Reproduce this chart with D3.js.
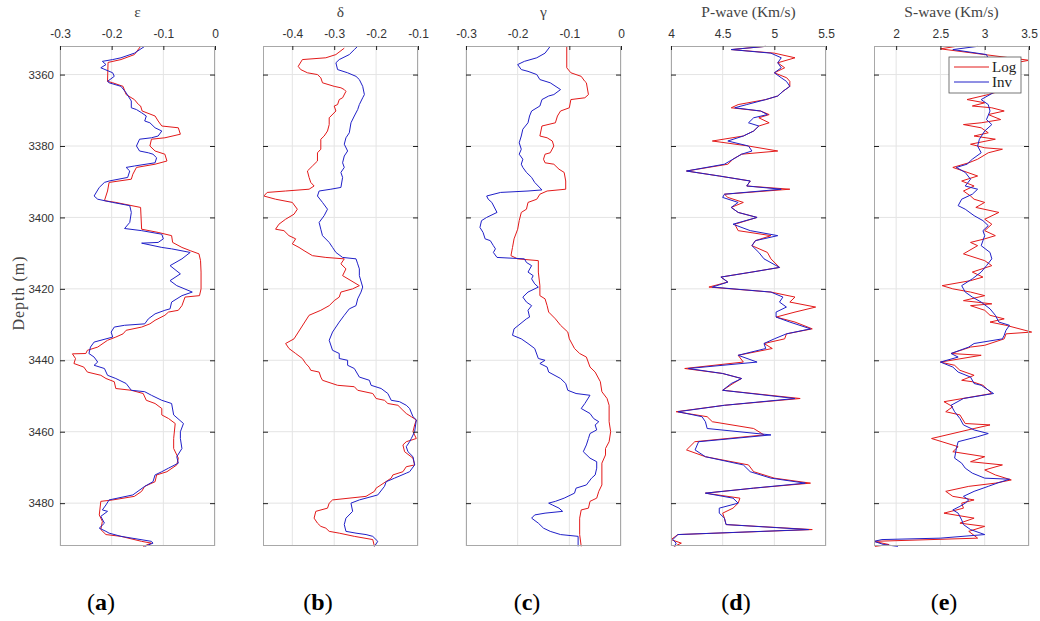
<!DOCTYPE html>
<html>
<head>
<meta charset="utf-8">
<script src="https://cdn.jsdelivr.net/npm/d3@7"></script>
<style>
  body { margin: 0; background: #fff; }
  svg { display: block; }
</style>
</head>
<body>
<div id="chart"></div>
<script>
// depth axis
var depthDomain = [3352, 3492];
var depthTicks = [3360, 3380, 3400, 3420, 3440, 3460, 3480];

// (a) epsilon
var epsLogDepth = [3352.1,3354.4,3355.8,3356.6,3361.9,3362.3,3363.3,3365.6,3367.0,3368.4,3368.8,3370.2,3371.6,3373.0,3374.4,3374.9,3376.7,3377.7,3378.1,3380.0,3381.4,3382.3,3384.2,3385.1,3386.0,3387.9,3389.3,3390.2,3392.6,3395.3,3395.8,3396.3,3397.2,3403.3,3404.2,3405.1,3407.0,3408.4,3409.3,3410.2,3412.1,3415.3,3420.0,3421.9,3422.3,3424.7,3426.0,3426.5,3427.4,3428.8,3429.8,3430.7,3431.6,3432.6,3433.5,3434.4,3436.3,3437.2,3438.1,3438.2,3439.5,3440.9,3441.9,3443.3,3444.2,3445.1,3446.0,3447.9,3448.4,3449.3,3451.2,3452.1,3453.5,3455.3,3456.3,3457.7,3461.9,3464.7,3467.4,3469.3,3471.2,3472.1,3474.0,3475.3,3476.7,3478.1,3479.1,3479.5,3483.3,3485.1,3487.4,3488.8,3489.3,3490.7,3491.2,3492.1];
var epsLog = [-0.144,-0.156,-0.182,-0.207,-0.208,-0.198,-0.178,-0.172,-0.156,-0.148,-0.144,-0.141,-0.116,-0.110,-0.103,-0.071,-0.067,-0.097,-0.123,-0.126,-0.116,-0.097,-0.093,-0.116,-0.152,-0.159,-0.162,-0.205,-0.208,-0.214,-0.192,-0.175,-0.144,-0.142,-0.110,-0.084,-0.082,-0.064,-0.048,-0.031,-0.028,-0.027,-0.027,-0.030,-0.058,-0.064,-0.071,-0.090,-0.097,-0.116,-0.126,-0.142,-0.172,-0.178,-0.192,-0.208,-0.227,-0.247,-0.250,-0.276,-0.270,-0.273,-0.254,-0.247,-0.221,-0.211,-0.195,-0.192,-0.162,-0.139,-0.133,-0.116,-0.103,-0.103,-0.090,-0.077,-0.080,-0.080,-0.071,-0.074,-0.093,-0.113,-0.116,-0.136,-0.142,-0.156,-0.198,-0.221,-0.224,-0.218,-0.221,-0.211,-0.182,-0.142,-0.123,-0.139];
var epsInvDepth = [3352.1,3354.0,3355.3,3355.8,3356.3,3357.2,3358.1,3359.5,3360.5,3361.9,3362.3,3363.3,3365.1,3367.4,3369.3,3369.8,3370.7,3371.6,3373.0,3373.5,3374.9,3375.8,3377.2,3377.7,3378.1,3380.0,3381.4,3381.9,3382.3,3383.3,3384.7,3385.6,3386.0,3387.0,3388.8,3389.8,3390.2,3391.6,3394.0,3394.9,3395.8,3396.7,3398.6,3401.4,3403.1,3403.7,3404.7,3406.0,3407.0,3407.2,3408.4,3408.8,3409.8,3411.6,3413.5,3415.8,3417.7,3419.1,3420.9,3421.9,3423.7,3425.6,3426.0,3427.0,3428.4,3429.8,3430.2,3430.7,3432.1,3433.5,3434.9,3436.3,3438.1,3439.1,3440.5,3441.4,3442.3,3444.2,3445.1,3446.5,3448.4,3448.8,3449.8,3451.2,3452.1,3455.3,3457.7,3460.0,3461.9,3464.7,3467.0,3468.8,3470.2,3471.2,3472.1,3474.0,3475.3,3477.7,3479.1,3480.5,3481.9,3482.3,3483.7,3485.6,3487.0,3487.9,3488.4,3489.3,3490.7,3491.2,3492.1];
var epsInv = [-0.136,-0.156,-0.182,-0.198,-0.218,-0.211,-0.221,-0.198,-0.195,-0.208,-0.205,-0.182,-0.172,-0.162,-0.162,-0.152,-0.142,-0.133,-0.136,-0.126,-0.116,-0.103,-0.110,-0.123,-0.146,-0.152,-0.146,-0.129,-0.120,-0.113,-0.116,-0.156,-0.172,-0.165,-0.169,-0.205,-0.214,-0.224,-0.234,-0.227,-0.198,-0.165,-0.162,-0.165,-0.175,-0.142,-0.103,-0.100,-0.110,-0.142,-0.103,-0.084,-0.048,-0.064,-0.087,-0.067,-0.087,-0.074,-0.044,-0.064,-0.084,-0.087,-0.097,-0.116,-0.129,-0.136,-0.175,-0.195,-0.201,-0.198,-0.234,-0.241,-0.244,-0.234,-0.227,-0.234,-0.214,-0.208,-0.192,-0.172,-0.162,-0.136,-0.123,-0.103,-0.084,-0.080,-0.061,-0.067,-0.067,-0.064,-0.074,-0.071,-0.090,-0.103,-0.116,-0.120,-0.136,-0.159,-0.205,-0.211,-0.218,-0.208,-0.221,-0.214,-0.224,-0.211,-0.205,-0.182,-0.123,-0.120,-0.136];

// (b) delta
var delLogDepth = [3352.6,3354.4,3355.3,3355.8,3357.7,3358.6,3359.5,3360.0,3360.9,3362.3,3363.3,3363.7,3364.2,3364.7,3366.5,3367.0,3368.4,3368.8,3370.2,3372.1,3374.0,3375.8,3377.2,3378.1,3380.9,3381.9,3384.2,3385.6,3387.0,3388.8,3390.2,3391.2,3392.1,3392.6,3393.0,3394.0,3394.9,3395.8,3397.7,3399.1,3400.5,3401.9,3403.3,3403.7,3405.1,3406.0,3407.4,3408.4,3409.3,3410.7,3411.2,3411.6,3413.0,3414.4,3416.3,3417.7,3419.1,3420.0,3420.9,3422.3,3423.3,3424.7,3426.0,3427.4,3434.0,3435.3,3436.7,3438.1,3439.5,3440.9,3441.9,3442.8,3443.3,3444.7,3445.6,3447.0,3447.4,3448.4,3449.3,3450.7,3451.2,3452.1,3452.6,3454.0,3454.9,3455.8,3456.7,3458.1,3460.0,3461.9,3462.8,3463.7,3465.6,3467.4,3469.3,3469.8,3471.2,3472.1,3473.0,3475.8,3476.7,3478.1,3479.1,3480.0,3481.4,3482.3,3484.2,3485.6,3486.5,3487.0,3487.9,3488.4,3489.3,3490.2,3492.1];
var delLog = [-0.276,-0.296,-0.320,-0.376,-0.386,-0.380,-0.364,-0.340,-0.332,-0.328,-0.300,-0.284,-0.276,-0.272,-0.280,-0.288,-0.292,-0.300,-0.296,-0.312,-0.312,-0.316,-0.324,-0.332,-0.332,-0.340,-0.340,-0.352,-0.364,-0.360,-0.356,-0.348,-0.360,-0.416,-0.460,-0.468,-0.440,-0.400,-0.388,-0.396,-0.416,-0.432,-0.440,-0.420,-0.408,-0.392,-0.400,-0.384,-0.372,-0.352,-0.320,-0.276,-0.284,-0.272,-0.280,-0.260,-0.240,-0.256,-0.284,-0.288,-0.300,-0.312,-0.332,-0.360,-0.396,-0.416,-0.408,-0.392,-0.376,-0.368,-0.360,-0.356,-0.336,-0.332,-0.328,-0.292,-0.252,-0.244,-0.208,-0.200,-0.180,-0.172,-0.148,-0.136,-0.128,-0.116,-0.104,-0.108,-0.112,-0.104,-0.128,-0.136,-0.132,-0.112,-0.108,-0.128,-0.136,-0.160,-0.164,-0.200,-0.204,-0.224,-0.304,-0.312,-0.316,-0.344,-0.348,-0.340,-0.332,-0.320,-0.312,-0.288,-0.252,-0.208,-0.204];
var delInvDepth = [3352.1,3353.0,3354.4,3355.8,3356.7,3358.6,3359.5,3360.5,3361.4,3363.3,3365.6,3366.5,3368.4,3369.8,3371.6,3373.5,3376.3,3377.7,3379.5,3381.4,3382.8,3384.7,3386.0,3387.4,3388.8,3391.6,3392.1,3392.6,3394.0,3395.8,3397.7,3399.5,3401.4,3403.3,3405.1,3407.0,3408.4,3409.8,3411.2,3411.6,3413.0,3414.4,3416.3,3419.5,3420.9,3422.8,3424.7,3425.6,3427.4,3429.3,3432.1,3434.4,3437.2,3438.1,3439.5,3440.0,3441.4,3442.3,3444.7,3445.6,3447.0,3447.9,3449.3,3451.2,3451.6,3452.6,3453.5,3455.8,3456.7,3460.0,3461.9,3462.8,3464.2,3465.6,3467.0,3469.3,3471.2,3471.6,3473.0,3474.0,3475.3,3477.7,3479.1,3480.0,3482.3,3484.2,3486.0,3487.9,3488.4,3488.8,3489.3,3490.7,3492.1];
var delInv = [-0.244,-0.252,-0.264,-0.288,-0.296,-0.292,-0.268,-0.248,-0.240,-0.232,-0.228,-0.232,-0.240,-0.244,-0.252,-0.260,-0.264,-0.272,-0.276,-0.268,-0.276,-0.280,-0.276,-0.284,-0.280,-0.284,-0.308,-0.336,-0.340,-0.328,-0.316,-0.324,-0.336,-0.332,-0.328,-0.312,-0.304,-0.296,-0.280,-0.248,-0.244,-0.240,-0.240,-0.232,-0.236,-0.244,-0.248,-0.264,-0.276,-0.288,-0.304,-0.312,-0.304,-0.288,-0.288,-0.268,-0.268,-0.252,-0.240,-0.216,-0.212,-0.188,-0.172,-0.164,-0.144,-0.128,-0.120,-0.112,-0.104,-0.108,-0.116,-0.120,-0.128,-0.124,-0.112,-0.108,-0.120,-0.128,-0.156,-0.176,-0.180,-0.196,-0.240,-0.260,-0.256,-0.272,-0.276,-0.272,-0.248,-0.224,-0.208,-0.196,-0.204];

// (c) gamma
var gamLogDepth = [3352.1,3358.1,3359.5,3360.5,3361.9,3362.3,3365.6,3366.5,3367.0,3369.3,3370.2,3371.6,3373.5,3374.4,3377.2,3377.7,3378.6,3380.0,3381.9,3382.3,3383.7,3384.7,3385.1,3386.5,3387.4,3389.8,3392.1,3392.6,3393.5,3394.9,3395.8,3397.7,3398.6,3400.9,3403.3,3406.0,3408.4,3410.7,3411.6,3412.1,3415.3,3419.1,3421.9,3422.8,3424.7,3426.5,3428.4,3430.2,3432.1,3434.0,3436.7,3438.1,3439.1,3441.9,3443.3,3446.0,3448.8,3450.7,3452.6,3457.2,3460.0,3462.8,3464.7,3466.5,3468.8,3474.9,3476.7,3478.6,3479.5,3481.4,3481.9,3484.2,3488.8,3492.1];
var gamLog = [-0.105,-0.105,-0.097,-0.077,-0.070,-0.067,-0.063,-0.070,-0.097,-0.100,-0.117,-0.123,-0.127,-0.153,-0.157,-0.143,-0.133,-0.130,-0.137,-0.147,-0.150,-0.147,-0.130,-0.120,-0.110,-0.107,-0.107,-0.143,-0.157,-0.163,-0.180,-0.183,-0.193,-0.197,-0.200,-0.207,-0.210,-0.213,-0.200,-0.160,-0.160,-0.157,-0.157,-0.147,-0.143,-0.140,-0.127,-0.117,-0.103,-0.100,-0.090,-0.080,-0.067,-0.060,-0.050,-0.040,-0.037,-0.027,-0.023,-0.023,-0.020,-0.023,-0.030,-0.030,-0.037,-0.037,-0.043,-0.047,-0.060,-0.063,-0.077,-0.080,-0.080,-0.077];
var gamInvDepth = [3352.1,3354.0,3355.3,3356.3,3357.2,3358.6,3359.1,3360.0,3361.4,3362.3,3364.2,3365.6,3366.0,3367.0,3368.8,3370.2,3371.6,3373.5,3375.3,3377.2,3379.1,3380.9,3382.3,3383.7,3385.1,3386.0,3387.4,3388.8,3390.2,3392.3,3392.6,3393.0,3394.0,3394.9,3395.8,3398.6,3400.0,3400.9,3402.8,3404.2,3406.0,3406.5,3407.9,3408.8,3409.8,3411.2,3411.6,3412.6,3413.5,3415.3,3416.3,3417.2,3418.6,3419.5,3420.9,3422.3,3423.7,3424.7,3426.0,3427.9,3428.4,3431.2,3433.0,3434.0,3435.3,3436.7,3439.5,3440.0,3440.9,3441.9,3443.3,3445.1,3446.5,3448.4,3449.3,3449.8,3452.1,3453.5,3454.9,3456.3,3457.2,3458.1,3459.5,3460.5,3461.9,3463.7,3465.6,3467.4,3468.4,3470.2,3472.1,3473.0,3474.9,3475.8,3477.2,3478.6,3479.5,3480.0,3480.5,3481.4,3482.3,3482.8,3483.3,3484.2,3485.6,3487.0,3487.9,3488.8,3489.3,3492.1];
var gamInv = [-0.137,-0.147,-0.163,-0.187,-0.200,-0.193,-0.180,-0.163,-0.157,-0.137,-0.117,-0.130,-0.140,-0.153,-0.157,-0.173,-0.177,-0.180,-0.190,-0.193,-0.197,-0.193,-0.197,-0.190,-0.193,-0.190,-0.183,-0.173,-0.167,-0.153,-0.180,-0.233,-0.260,-0.257,-0.250,-0.240,-0.260,-0.270,-0.273,-0.267,-0.263,-0.253,-0.247,-0.243,-0.247,-0.240,-0.187,-0.183,-0.173,-0.180,-0.170,-0.173,-0.167,-0.160,-0.180,-0.190,-0.183,-0.173,-0.180,-0.177,-0.183,-0.207,-0.210,-0.193,-0.180,-0.167,-0.160,-0.147,-0.157,-0.143,-0.140,-0.117,-0.107,-0.103,-0.087,-0.060,-0.070,-0.077,-0.060,-0.053,-0.043,-0.050,-0.047,-0.060,-0.063,-0.067,-0.073,-0.060,-0.047,-0.047,-0.050,-0.057,-0.067,-0.087,-0.090,-0.110,-0.127,-0.140,-0.133,-0.120,-0.113,-0.147,-0.167,-0.173,-0.160,-0.150,-0.137,-0.117,-0.083,-0.083];

// (d) P-wave, shared depth sampling
var pDepth = [3352.1,3353.0,3354.0,3355.3,3356.7,3358.1,3359.5,3360.9,3361.9,3363.3,3364.7,3366.0,3367.0,3368.4,3369.3,3370.2,3371.2,3372.1,3373.5,3374.4,3375.8,3377.2,3378.6,3380.0,3381.4,3382.3,3383.7,3385.1,3387.0,3388.4,3389.8,3391.2,3392.1,3393.5,3394.4,3395.8,3397.2,3398.6,3400.0,3401.9,3403.7,3405.1,3406.5,3407.9,3409.8,3411.6,3414.0,3415.3,3416.7,3418.1,3419.5,3420.9,3422.3,3423.7,3425.1,3426.5,3427.9,3429.3,3431.2,3432.6,3434.0,3435.3,3436.7,3438.6,3440.5,3442.3,3443.7,3445.1,3446.5,3448.4,3450.7,3452.6,3454.4,3455.8,3457.2,3459.1,3460.9,3462.8,3465.1,3467.0,3469.3,3471.2,3473.0,3474.4,3475.8,3477.2,3478.6,3480.0,3481.4,3482.8,3484.2,3486.0,3487.4,3488.8,3490.2,3491.2,3492.1];
var pInv = [4.917,4.583,4.967,5.067,5.033,5.067,5.0,5.067,5.117,5.15,5.083,5.033,4.917,4.733,4.617,4.867,4.933,4.8,4.75,4.85,4.8,4.7,4.55,4.75,4.783,4.683,4.6,4.517,4.15,4.467,4.767,4.733,5.067,4.517,4.5,4.65,4.583,4.65,4.833,4.6,4.767,5.033,4.817,4.783,4.85,4.9,5.05,4.783,4.483,4.55,4.4,4.967,5.083,5.05,5.117,5.017,5.017,5.15,5.35,5.117,5.0,4.9,4.917,4.65,4.833,4.167,4.5,4.683,4.583,4.5,5.2,4.517,4.067,4.3,4.333,4.35,4.967,4.267,4.233,4.333,4.7,4.767,4.967,5.3,4.8,4.333,4.6,4.65,4.467,4.467,4.517,4.533,5.333,4.067,4.017,4.05,4.033];
var pLog = [4.917,4.583,5.0,5.2,5.033,5.1,5.0,5.12,5.15,5.15,5.083,5.033,4.917,4.65,4.583,4.867,4.95,4.85,4.95,4.85,4.8,4.7,4.4,4.75,5.033,4.683,4.6,4.55,4.15,4.467,4.767,4.733,5.15,4.517,4.55,4.7,4.583,4.65,4.833,4.617,4.65,4.967,4.817,4.783,4.933,4.967,5.05,4.783,4.483,4.55,4.367,4.967,5.2,5.15,5.4,5.2,5.017,5.2,5.367,5.117,5.1,4.9,4.98,4.65,4.7,4.133,4.5,4.683,4.6,4.5,5.25,4.517,4.05,4.35,4.4,4.8,4.9,4.23,4.15,4.333,4.75,4.8,5.0,5.35,4.8,4.333,4.667,4.65,4.6,4.5,4.517,4.533,5.367,4.067,4.0,4.1,4.033];

// (e) S-wave
var sLogDepth = [3352.1,3352.8,3354.4,3356.0,3357.7,3359.5,3361.9,3364.7,3365.6,3367.0,3367.9,3368.8,3369.3,3370.2,3371.2,3372.6,3373.5,3374.0,3374.9,3376.3,3377.2,3378.1,3379.5,3380.5,3380.9,3381.9,3383.7,3384.7,3386.0,3387.0,3388.4,3389.8,3391.2,3392.6,3394.0,3394.9,3395.8,3397.2,3398.6,3400.5,3401.9,3403.7,3405.1,3406.0,3407.0,3407.9,3410.2,3412.1,3413.5,3415.3,3416.7,3417.7,3419.1,3420.0,3420.9,3421.9,3423.3,3424.2,3424.7,3426.0,3427.4,3428.4,3429.3,3430.2,3432.1,3432.6,3434.0,3435.8,3436.3,3438.1,3438.6,3440.5,3441.4,3442.8,3444.2,3445.6,3446.0,3447.0,3449.3,3451.6,3453.0,3454.4,3455.3,3457.7,3458.1,3459.1,3461.9,3464.2,3465.6,3467.0,3468.4,3469.3,3470.7,3472.1,3473.5,3474.4,3475.3,3476.7,3478.1,3479.1,3480.0,3481.4,3482.8,3484.2,3485.6,3486.5,3487.9,3489.8,3490.7,3491.6,3492.1];
var sLog = [2.68,2.5,3.0,3.5,3.12,3.2,3.08,3.16,3.04,2.8,3.0,2.86,3.08,3.22,3.04,3.18,2.96,2.76,2.96,3.04,2.88,3.12,2.84,3.0,3.2,3.04,2.92,2.82,2.64,2.76,2.92,2.74,2.88,2.76,2.84,2.88,3.0,2.9,3.16,3.0,3.08,3.0,3.12,3.0,2.84,2.92,2.76,3.0,3.08,2.86,2.98,2.84,2.52,2.64,2.84,3.0,2.76,3.08,2.84,3.0,3.06,3.22,3.06,3.24,3.53,3.24,3.22,3.0,2.84,2.62,2.96,2.5,2.66,2.72,2.88,2.74,2.86,2.98,3.08,2.54,2.64,2.56,2.72,2.78,3.06,2.88,2.4,2.7,2.64,3.0,2.84,3.2,3.0,3.12,3.3,3.12,2.82,2.56,2.64,2.88,2.74,2.76,2.54,2.88,2.72,3.0,2.82,2.92,1.75,1.92,1.76];
var sInvDepth = [3352.1,3353.0,3354.4,3356.7,3359.5,3362.3,3364.2,3365.6,3367.0,3368.4,3370.2,3372.6,3374.0,3375.8,3378.1,3380.0,3381.9,3383.7,3385.1,3386.0,3387.4,3389.3,3391.2,3392.1,3393.5,3394.9,3396.7,3397.7,3399.5,3400.9,3402.3,3403.7,3405.1,3407.9,3409.8,3411.6,3413.5,3415.3,3417.2,3419.1,3420.9,3422.3,3423.7,3425.6,3427.4,3429.3,3430.2,3431.6,3433.0,3434.0,3435.3,3436.3,3438.1,3439.1,3440.5,3441.9,3443.3,3444.7,3446.5,3447.0,3449.3,3450.7,3452.6,3454.4,3456.3,3458.1,3459.5,3460.5,3461.4,3462.8,3464.7,3467.4,3468.8,3470.2,3471.6,3473.0,3473.3,3474.4,3475.3,3476.7,3478.1,3479.1,3480.0,3480.9,3481.9,3482.8,3484.7,3486.0,3487.4,3488.8,3489.8,3490.2,3490.7,3491.6,3492.1];
var sInv = [2.92,2.64,3.02,3.06,3.1,3.14,3.16,3.06,2.96,3.04,3.06,3.02,3.08,3.0,2.94,2.92,2.96,2.86,2.8,2.68,2.78,2.84,2.78,2.92,2.86,2.74,2.7,2.78,2.88,2.98,3.04,2.98,3.0,2.96,3.06,3.08,3.02,2.96,2.86,2.74,2.78,2.86,2.96,3.06,3.12,3.16,3.28,3.24,3.22,3.2,2.88,2.82,2.62,2.7,2.5,2.64,2.7,2.84,2.88,2.96,3.1,2.76,2.62,2.66,2.72,2.76,2.88,3.04,2.92,2.7,2.68,2.66,2.74,2.78,2.86,3.0,3.28,3.14,3.04,2.88,2.76,2.82,2.78,2.72,2.64,2.7,2.74,2.76,2.84,3.0,2.5,1.84,1.75,1.86,2.02];

var panels = [
  {title: "ε", label: "a", domain: [-0.3, 0], ticks: [-0.3, -0.2, -0.1, 0],
   log: [epsLogDepth, epsLog], inv: [epsInvDepth, epsInv]},
  {title: "δ", label: "b", domain: [-0.47, -0.1], ticks: [-0.4, -0.3, -0.2, -0.1],
   log: [delLogDepth, delLog], inv: [delInvDepth, delInv]},
  {title: "γ", label: "c", domain: [-0.3, 0], ticks: [-0.3, -0.2, -0.1, 0],
   log: [gamLogDepth, gamLog], inv: [gamInvDepth, gamInv]},
  {title: "P-wave (Km/s)", label: "d", domain: [4, 5.5], ticks: [4, 4.5, 5, 5.5],
   log: [pDepth, pLog], inv: [pDepth, pInv]},
  {title: "S-wave (Km/s)", label: "e", domain: [1.75, 3.5], ticks: [2, 2.5, 3, 3.5],
   log: [sLogDepth, sLog], inv: [sInvDepth, sInv]}
];

var W = 1040, H = 621;
var plotTop = 46, plotBottom = 546, pw = 155;
var lefts = [60, 263, 466, 671, 874];
var labelX = [101, 318, 527, 736, 944];
var logColor = "#e31a1a", invColor = "#2020c8";
var tickFont = "'Liberation Sans', Arial, sans-serif";
var serif = "'Liberation Serif', 'Times New Roman', serif";

var svg = d3.select("#chart").append("svg")
    .attr("width", W)
    .attr("height", H);

svg.append("rect").attr("width", W).attr("height", H).attr("fill", "#fff");

var y = d3.scaleLinear().domain(depthDomain).range([plotTop, plotBottom]);

panels.forEach(function (p, i) {
    var x = d3.scaleLinear().domain(p.domain).range([lefts[i], lefts[i] + pw]);
    var g = svg.append("g");

    // grid
    g.selectAll(".gx").data(p.ticks).enter().append("line")
        .attr("x1", function (d) { return x(d); }).attr("x2", function (d) { return x(d); })
        .attr("y1", plotTop).attr("y2", plotBottom)
        .attr("stroke", "#e4e4e4").attr("stroke-width", 1);
    g.selectAll(".gy").data(depthTicks).enter().append("line")
        .attr("x1", lefts[i]).attr("x2", lefts[i] + pw)
        .attr("y1", function (d) { return y(d); }).attr("y2", function (d) { return y(d); })
        .attr("stroke", "#e4e4e4").attr("stroke-width", 1);

    // traces: log first, inversion on top
    var line = d3.line()
        .x(function (d) { return x(d[1]); })
        .y(function (d) { return y(d[0]); });
    [[p.log, logColor], [p.inv, invColor]].forEach(function (s) {
        var pts = d3.zip(s[0][0], s[0][1]);
        g.append("path")
            .attr("d", line(pts))
            .attr("fill", "none")
            .attr("stroke", s[1])
            .attr("stroke-width", 1)
            .attr("stroke-linejoin", "round");
    });

    // box
    g.append("rect")
        .attr("x", lefts[i] + 0.5).attr("y", plotTop + 0.5)
        .attr("width", pw - 1).attr("height", plotBottom - plotTop - 1)
        .attr("fill", "none").attr("stroke", "#a8a8a8").attr("stroke-width", 1);

    // top axis, ticks pointing inward
    var xAxis = d3.axisTop(x).tickValues(p.ticks).tickSize(-4).tickPadding(8)
        .tickFormat(function (d) { return String(+d.toFixed(2)); });
    var ax = g.append("g").attr("transform", "translate(0," + plotTop + ")").call(xAxis);
    ax.select(".domain").remove();
    ax.selectAll("line").attr("stroke", "#222");
    ax.selectAll("text").attr("font-family", tickFont).attr("font-size", 12).attr("fill", "#333");

    // left and right depth ticks
    var yl = d3.axisLeft(y).tickValues(depthTicks).tickSize(-5).tickPadding(6)
        .tickFormat(i === 0 ? d3.format("d") : function () { return ""; });
    var ayl = g.append("g").attr("transform", "translate(" + lefts[i] + ",0)").call(yl);
    ayl.select(".domain").remove();
    ayl.selectAll("line").attr("stroke", "#222");
    ayl.selectAll("text").attr("font-family", tickFont).attr("font-size", 11.5).attr("fill", "#333");

    var yr = d3.axisRight(y).tickValues(depthTicks).tickSize(-5).tickFormat("");
    var ayr = g.append("g").attr("transform", "translate(" + (lefts[i] + pw) + ",0)").call(yr);
    ayr.select(".domain").remove();
    ayr.selectAll("line").attr("stroke", "#222");

    // title
    g.append("text")
        .attr("x", lefts[i] + pw / 2).attr("y", 17)
        .attr("text-anchor", "middle")
        .attr("font-family", serif).attr("font-size", 15.5).attr("fill", "#444")
        .text(p.title);

    // panel letter
    var t = svg.append("text")
        .attr("x", labelX[i]).attr("y", 610)
        .attr("text-anchor", "middle")
        .attr("font-family", serif).attr("font-size", 24).attr("fill", "#000");
    t.append("tspan").text("(");
    t.append("tspan").attr("font-weight", "bold").text(p.label);
    t.append("tspan").text(")");
});

// depth label
svg.append("text")
    .attr("transform", "translate(24,293) rotate(-90)")
    .attr("text-anchor", "middle")
    .attr("font-family", serif).attr("font-size", 16).attr("letter-spacing", 1)
    .attr("fill", "#444")
    .text("Depth (m)");

// legend in panel e
var lg = svg.append("g").attr("transform", "translate(949,57)");
lg.append("rect").attr("width", 72).attr("height", 36)
    .attr("fill", "#fff").attr("stroke", "#555").attr("stroke-width", 0.8);
[["Log", logColor], ["Inv", invColor]].forEach(function (e, k) {
    lg.append("line").attr("x1", 5).attr("x2", 40)
        .attr("y1", 10 + k * 15).attr("y2", 10 + k * 15)
        .attr("stroke", e[1]).attr("stroke-width", 1);
    lg.append("text").attr("x", 43).attr("y", 15 + k * 15)
        .attr("font-family", serif).attr("font-size", 15).attr("fill", "#222")
        .text(e[0]);
});
</script>
</body>
</html>
